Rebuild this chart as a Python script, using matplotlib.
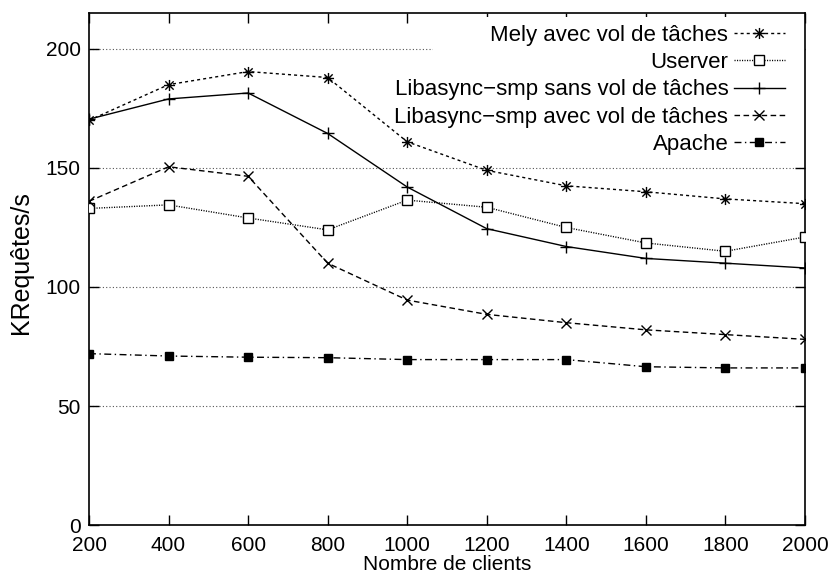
import matplotlib
matplotlib.use("Agg")
import matplotlib.pyplot as plt
from matplotlib.path import Path
from matplotlib.patches import Rectangle

plt.rcParams['font.family'] = ['Liberation Sans', 'DejaVu Sans']

clients = [200, 400, 600, 800, 1000, 1200, 1400, 1600, 1800, 2000]
mely = [170, 185, 190.5, 188, 161, 149, 142.5, 140, 137, 135]
userver = [133, 134.5, 129, 124, 136.5, 133.5, 125, 118.5, 115, 121]
libasync_sans = [170.5, 179, 181.5, 164.5, 142, 124.5, 117, 112, 110, 108]
libasync_avec = [136, 150.5, 146.5, 110, 94.5, 88.5, 85, 82, 80, 78]
apache = [72, 71, 70.5, 70.3, 69.5, 69.5, 69.5, 66.5, 66, 66]

labels = ["Mely avec vol de tâches", "Userver", "Libasync\u2212smp sans vol de tâches",
          "Libasync\u2212smp avec vol de tâches", "Apache"]
xticks = [200, 400, 600, 800, 1000, 1200, 1400, 1600, 1800, 2000]
yticks = [0, 50, 100, 150, 200]

star = Path([(-1, 0), (1, 0), (0, -1), (0, 1), (-0.75, -0.75), (0.75, 0.75), (-0.75, 0.75), (0.75, -0.75)],
            [Path.MOVETO, Path.LINETO] * 4)

fig = plt.figure(figsize=(8.35, 5.76), dpi=100)
ax = fig.add_axes([0.1066, 0.0885, 0.964 - 0.1066, 0.977 - 0.0885])

lw = 1.0
ax.plot(clients, mely, color='black', lw=lw, linestyle=(0, (2.2, 2.2)), marker=star, ms=8, mew=1,
        label=labels[0], zorder=3)
ax.plot(clients, userver, color='black', lw=lw, linestyle=(0, (0.8, 1.0)), marker='s', ms=6.5,
        mfc='white', mew=1, label=labels[1], zorder=3)
ax.plot(clients, libasync_sans, color='black', lw=lw, linestyle='-', marker='+', ms=8.5, mew=1,
        label=labels[2], zorder=3)
ax.plot(clients, libasync_avec, color='black', lw=lw, linestyle=(0, (4, 2.5)), marker='x', ms=6.5, mew=1,
        label=labels[3], zorder=3)
ax.plot(clients, apache, color='black', lw=lw, linestyle=(0, (5, 2.5, 1, 2.5)), marker='s', ms=5.5,
        mfc='black', label=labels[4], zorder=3)

ax.set_xlim(200, 2000)
ax.set_ylim(0, 215)
ax.set_xticks(xticks)
ax.set_yticks(yticks)
ax.tick_params(direction='in', length=7, width=1, labelsize=15, top=True, right=True, pad=6)
ax.tick_params(axis='x', pad=8)
ax.yaxis.grid(True, linestyle=(0, (1, 2)), color='#555555', lw=0.8)
ax.set_axisbelow(True)
for s in ax.spines.values():
    s.set_linewidth(1.2)

# opaque key area hiding the grid behind the legend
ax.add_patch(Rectangle((0.48, 0.723), 0.52, 0.27, transform=ax.transAxes,
                       facecolor='white', edgecolor='none', zorder=1))

ax.set_xlabel("Nombre de clients", fontsize=15, labelpad=0)
ax.set_ylabel("KRequêtes/s", fontsize=18)
ax.yaxis.set_label_coords(-0.078, 0.512)

leg = ax.legend(loc='upper right', markerfirst=False, frameon=False, fontsize=16,
                handlelength=2.3, handletextpad=0.25, labelspacing=0.28,
                borderaxespad=0, borderpad=0,
                bbox_to_anchor=(785 / 835, 1 - 25 / 576), bbox_transform=fig.transFigure)

fig.savefig("out.png", dpi=100)
